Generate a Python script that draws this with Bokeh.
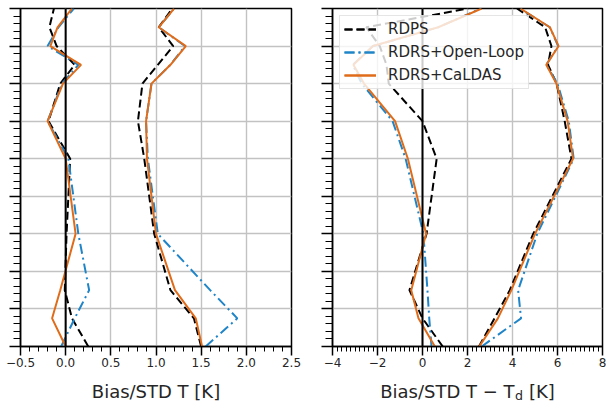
from bokeh.plotting import figure
from bokeh.layouts import row, column
from bokeh.models import Range1d, FixedTicker, Span, Legend, LegendItem
from bokeh.core.properties import value
from bokeh.embed import file_html
from bokeh.resources import INLINE

# ---------------- data ----------------
levels = [1000, 925, 850, 700, 500, 400, 300, 250, 200, 150, 100]

# Temperature: bias and STD [K]
rdps_bias_t = [0.25, 0.07, -0.01, 0.01, 0.05, -0.19, -0.06, 0.10, -0.10, -0.18, -0.13]
ol_bias_t   = [-0.05, 0.10, 0.26, 0.14, 0.03, -0.20, -0.04, 0.14, -0.20, -0.08, 0.09]
cal_bias_t  = [0.00, -0.15, -0.06, 0.11, 0.00, -0.20, -0.03, 0.17, -0.17, -0.09, 0.07]

rdps_std_t = [1.50, 1.42, 1.16, 0.98, 0.87, 0.80, 0.85, 1.02, 1.19, 1.03, 1.18]
ol_std_t   = [1.55, 1.90, 1.60, 1.02, 0.91, 0.89, 0.95, 1.16, 1.32, 1.03, 1.20]
cal_std_t  = [1.51, 1.44, 1.21, 1.00, 0.90, 0.89, 0.95, 1.16, 1.33, 1.03, 1.20]

# Dew-point depression: bias and STD [K]
rdps_bias_td = [0.90, 0.00, -0.58, 0.18, 0.63, 0.00, -1.50, -1.60, -1.90, -2.50, 2.03]
ol_bias_td   = [0.40, 0.30, 0.22, 0.04, -0.75, -1.33, -2.70, -3.10, -2.20, 0.70, 2.60]
cal_bias_td  = [0.55, -0.18, -0.50, 0.16, -0.65, -1.22, -2.60, -3.07, -2.20, 0.70, 2.63]

rdps_std_td = [2.51, 3.20, 3.88, 4.92, 6.62, 6.32, 5.96, 5.58, 5.73, 5.45, 4.20]
ol_std_td   = [2.63, 4.38, 4.25, 5.10, 6.72, 6.50, 6.00, 5.50, 6.03, 5.66, 4.33]
cal_std_td  = [2.52, 3.35, 3.95, 5.00, 6.69, 6.45, 5.95, 5.50, 6.05, 5.66, 4.35]

series_names = ["RDPS", "RDRS+Open-Loop", "RDRS+CaLDAS"]

left_xticks = [-0.5, 0.0, 0.5, 1.0, 1.5, 2.0, 2.5]
left_xlabels = ["\u22120.5", "0.0", "0.5", "1.0", "1.5", "2.0", "2.5"]
right_xticks = [-4, -2, 0, 2, 4, 6, 8]
right_xlabels = ["\u22124", "\u22122", "0", "2", "4", "6", "8"]
p_ticks = [100, 200, 300, 400, 500, 600, 700, 800, 900, 1000]

left_title = "Bias/STD T [K]"
right_title_parts = ["Bias/STD T \u2212 T", "d", "[K]"]

# ---------------- styles / layout ----------------
FONT = "DejaVu Sans"
TXT = "#262626"
COLORS = ["black", "#1f85c8", "#e06c1a"]
DASHES = ["8 4", "10 4 2 4", "solid"]
LW = 2.0
FRAME_H = 338
TOP = 8
BOTTOM = 30
STRIP_H = 401 - (TOP + FRAME_H + BOTTOM)
P_BOTTOM, P_TOP = 1000, 100


def make_panel(xr, xticks, xlabels, minor_step, frame_w, mb_left, mb_right):
    p = figure(frame_width=frame_w, frame_height=FRAME_H,
               x_range=Range1d(*xr), y_range=Range1d(P_BOTTOM, P_TOP),
               output_backend="svg", toolbar_location=None,
               min_border_left=mb_left, min_border_right=mb_right,
               min_border_top=TOP, min_border_bottom=BOTTOM)
    p.background_fill_color = "white"
    p.border_fill_color = "white"
    p.outline_line_color = "black"
    p.outline_line_width = 1.5

    n = int(round((xr[1] - xr[0]) / minor_step))
    xminor = [xr[0] + i * minor_step for i in range(n + 1)]
    p.xaxis.ticker = FixedTicker(ticks=xticks, minor_ticks=xminor)
    p.xaxis.major_label_overrides = {t: l for t, l in zip(xticks, xlabels)}
    yminor = list(range(100, 1001, 20))
    p.yaxis.ticker = FixedTicker(ticks=p_ticks, minor_ticks=yminor)
    p.yaxis.major_label_overrides = {t: "" for t in p_ticks}

    for ax in (p.xaxis[0], p.yaxis[0]):
        ax.axis_line_color = "black"
        ax.axis_line_width = 1.5
        ax.major_tick_line_color = "black"
        ax.major_tick_line_width = 1.5
        ax.minor_tick_line_color = "black"
        ax.minor_tick_line_width = 1.0
        ax.major_tick_in = 0
        ax.minor_tick_in = 0
        ax.major_label_text_font = FONT
        ax.major_label_text_font_size = "12px"
        ax.major_label_text_color = TXT
    p.xaxis.major_tick_out = 9
    p.xaxis.minor_tick_out = 5
    p.xaxis.major_label_standoff = 2
    p.yaxis.major_tick_out = 11
    p.yaxis.minor_tick_out = 7
    p.yaxis.major_label_standoff = 0
    p.yaxis.major_label_text_font_size = "1px"

    p.xgrid.ticker = FixedTicker(ticks=xticks)
    p.ygrid.ticker = FixedTicker(ticks=p_ticks)
    for g in (p.xgrid[0], p.ygrid[0]):
        g.grid_line_color = "#c2c2c2"
        g.grid_line_width = 1.4

    p.add_layout(Span(location=0, dimension="height", line_color="black", line_width=2))
    return p


def draw(p, bias_list, std_list):
    rends = []
    for b, s, c, d in zip(bias_list, std_list, COLORS, DASHES):
        r1 = p.line(b, levels, line_color=c, line_width=LW, line_dash=d)
        r2 = p.line(s, levels, line_color=c, line_width=LW, line_dash=d)
        rends.append([r1, r2])
    return rends


def title_strip(width, xs, ys, texts, sizes):
    s = figure(width=width, height=STRIP_H, x_range=Range1d(0, width),
               y_range=Range1d(0, STRIP_H), output_backend="svg",
               toolbar_location=None, x_axis_location=None, y_axis_location=None,
               min_border=0)
    s.outline_line_color = None
    s.grid.visible = False
    s.background_fill_color = "white"
    s.border_fill_color = "white"
    for x, y, t, fs in zip(xs, ys, texts, sizes):
        s.text(x=[x], y=[y], text=[t], text_font=value(FONT), text_font_size=fs,
               text_color=TXT, text_align="left", text_baseline="alphabetic")
    return s


# ---------- left panel ----------
LW1, MBL1, MBR1 = 271, 20, 21
p1 = make_panel((-0.5, 2.5), left_xticks, left_xlabels, 0.1, LW1, MBL1, MBR1)
draw(p1, [rdps_bias_t, ol_bias_t, cal_bias_t], [rdps_std_t, ol_std_t, cal_std_t])

# ---------- right panel ----------
LW2, MBL2, MBR2 = 270, 20, 4
p2 = make_panel((-4, 8), right_xticks, right_xlabels, 0.2, LW2, MBL2, MBR2)
rends = draw(p2, [rdps_bias_td, ol_bias_td, cal_bias_td], [rdps_std_td, ol_std_td, cal_std_td])

legend = Legend(items=[LegendItem(label=n, renderers=r) for n, r in zip(series_names, rends)],
                location="top_left", margin=7, padding=4, spacing=5,
                label_height=18, glyph_height=18, glyph_width=32, label_standoff=12,
                label_text_font=FONT, label_text_font_size="15px", label_text_color=TXT,
                border_line_color="#cccccc", border_line_width=1,
                background_fill_color="white", background_fill_alpha=0.8)
p2.add_layout(legend)

# ---------- axis titles (text strips under each panel) ----------
BASE = 10
FS = 18
w_left = 7.134 * FS
c1 = MBL1 + LW1 / 2
s1 = title_strip(MBL1 + LW1 + MBR1, [c1 - w_left / 2], [BASE], [left_title], [f"{FS}px"])

w1 = 7.465 * FS
w2 = 0.635 * FS * 0.7
gap = 0.36 * FS
w3 = 1.436 * FS
c2 = MBL2 + LW2 / 2
x0 = c2 - (w1 + w2 + gap + w3) / 2
s2 = title_strip(MBL2 + LW2 + MBR2,
                 [x0, x0 + w1 + 0.5, x0 + w1 + w2 + gap],
                 [BASE, BASE - 3.5, BASE],
                 right_title_parts,
                 [f"{FS}px", f"{FS * 0.7:.1f}px", f"{FS}px"])

layout = column(row(p1, p2), row(s1, s2))
open("out.html", "w").write(file_html(layout, INLINE))
